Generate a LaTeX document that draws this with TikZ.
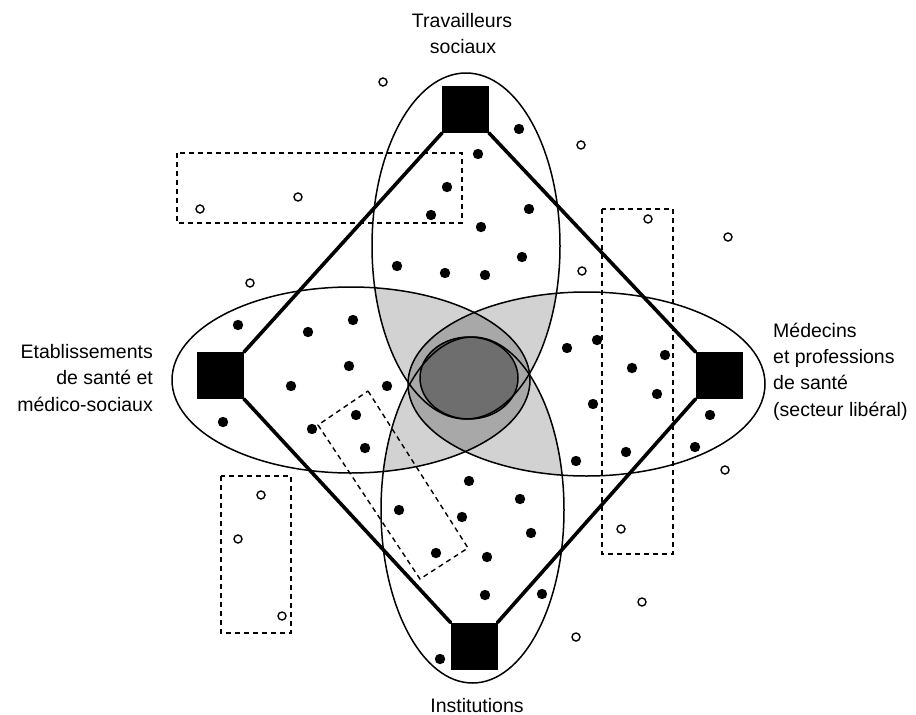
\documentclass[tikz,border=0pt]{standalone}
\usepackage{fontspec}
\setmainfont{Liberation Sans}
\definecolor{lgray}{HTML}{D2D2D2}
\definecolor{mgray}{HTML}{A8A8A8}
\definecolor{dgray}{HTML}{6E6E6E}
\tikzset{
  sq/.style={fill=black, minimum size=47pt, inner sep=0pt, outer sep=0pt},
  edgeline/.style={line width=3.6pt, line cap=round},
  ell/.style={line width=1.5pt},
  dashbox/.style={line width=1.4pt, dash pattern=on 5pt off 4pt},
  lbl/.style={font=\fontsize{19.5}{26.6}\selectfont, inner sep=0pt},
}
\begin{document}
\begin{tikzpicture}[x=1pt,y=-1pt]
\useasboundingbox (0,0) rectangle (916,715);
% shading
\begin{scope}
  \clip (466,246) ellipse [x radius=94pt, y radius=173pt];
  \fill[lgray] (351,380) ellipse [x radius=179pt, y radius=93pt];
  \fill[lgray] (586.5,384) ellipse [x radius=178.5pt, y radius=92pt];
\end{scope}
\begin{scope}
  \clip (472.5,510) ellipse [x radius=91.5pt, y radius=173pt];
  \fill[lgray] (351,380) ellipse [x radius=179pt, y radius=93pt];
  \fill[lgray] (586.5,384) ellipse [x radius=178.5pt, y radius=92pt];
\end{scope}
\begin{scope}
  \clip (351,380) ellipse [x radius=179pt, y radius=93pt];
  \fill[mgray] (586.5,384) ellipse [x radius=178.5pt, y radius=92pt];
\end{scope}
\filldraw[fill=dgray, draw=black, ell] (469,378) ellipse [x radius=49pt, y radius=41pt];
% ellipses
\draw[ell] (466,246) ellipse [x radius=94pt, y radius=173pt];
\draw[ell] (472.5,510) ellipse [x radius=91.5pt, y radius=173pt];
\draw[ell] (351,380) ellipse [x radius=179pt, y radius=93pt];
\draw[ell] (586.5,384) ellipse [x radius=178.5pt, y radius=92pt];
% dashed boxes
\draw[dashbox] (177,153) rectangle (462,223);
\draw[dashbox] (602,209) rectangle (673,554);
\draw[dashbox] (221,476) rectangle (291,633);
\draw[dashbox] (368,391) -- (468,548) -- (420,579) -- (318,425) -- cycle;
% squares
\node[sq] (T) at (465.5,109.5) {};
\node[sq] (L) at (220.5,375.5) {};
\node[sq] (R) at (719,375.5) {};
\node[sq] (B) at (474,646) {};
\draw[edgeline] (T.south west) -- (L.north east);
\draw[edgeline] (T.south east) -- (R.north west);
\draw[edgeline] (L.south east) -- (B.north west);
\draw[edgeline] (R.south west) -- (B.north east);
% filled dots
\foreach \p in {(519,129),(478,154),(447,187),(431,215),(481,227),(529,209),
  (397,266),(445,273),(485,275),(522,257),
  (238,325),(308,332),(353,320),(349,366),(291,386),(387,386),(223,422),
  (356,415),(312,429),(365,448),
  (567,348),(597,340),(665,355),(632,368),(657,394),(593,404),(710,415),
  (695,447),(626,452),(576,461),
  (469,481),(520,499),(399,510),(462,517),(531,533),(436,553),(487,557),
  (485,595),(542,594),(440,659)}
  \fill \p circle (5.2pt);
% open dots
\foreach \p in {(383,82),(581,145),(200,209),(298,197),(250,283),(648,219),
  (728,237),(582,271),(261,495),(238,539),(282,616),(725,470),(621,529),
  (642,602),(576,637)}
  \draw[line width=1.4pt] \p circle (4pt);
% labels
\node[lbl, anchor=base] (tl1) at (462,27) {Travailleurs};
\node[lbl, anchor=base] (tl2) at (463,53.5) {sociaux};
\node[lbl, anchor=base east] (ll1) at (153,358) {Etablissements};
\node[lbl, anchor=base east] (ll2) at (153,384.7) {de santé et};
\node[lbl, anchor=base east] (ll3) at (153,411.4) {médico-sociaux};
\node[lbl, anchor=base west] (rl1) at (773,337) {Médecins};
\node[lbl, anchor=base west] (rl2) at (773,363.4) {et professions};
\node[lbl, anchor=base west] (rl3) at (773,389.8) {de santé};
\node[lbl, anchor=base west] (rl4) at (773,416.2) {(secteur libéral)};
\node[lbl, anchor=base] (bl) at (477,712) {Institutions};
\end{tikzpicture}
\end{document}
